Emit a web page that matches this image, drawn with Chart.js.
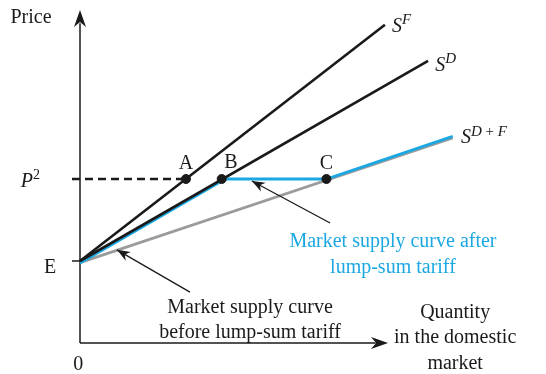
<!DOCTYPE html>
<html>
<head>
<meta charset="utf-8">
<script src="https://cdn.jsdelivr.net/npm/chart.js@4.4.0/dist/chart.umd.min.js"></script>
<style>
html, body { margin: 0; padding: 0; background: #fff; }
</style>
</head>
<body>
<canvas id="myChart" width="546" height="374"></canvas>
<script>
// all supply curves start at E on the price axis
const priceE = 25;
const priceP2 = 50;

// quantity / price pairs for each curve
const sF_q = [0, 99];
const sF_p = [25, 97];
const sD_q = [0, 113];
const sD_p = [25, 86];
const sDF_q = [0, 121];
const sDF_p = [25, 63];

// market supply after the lump-sum tariff: E -> B -> C -> along S(D+F)
const after_q = [0, 46, 80, 121];
const after_p = [25, 50, 50, 63];

// marked points
const pointNames = ['A', 'B', 'C'];
const point_q = [34.4, 46, 80];
const point_p = [50, 50, 50];

// axis ends (arrow tips)
const axisMaxQ = 100;
const axisMaxP = 101.5;

const BLUE = '#1ba8e2';
const GRAY = '#9b9b9b';
const INK = '#1a1a1a';
const SERIF = '"Liberation Serif", "Times New Roman", serif';

function pts(q, p) {
    return q.map((v, i) => ({x: v, y: p[i]}));
}

function line(data, color, width, extra) {
    return Object.assign({
        data: data,
        showLine: true,
        borderColor: color,
        borderWidth: width,
        pointRadius: 0,
        clip: false,
        borderCapStyle: 'butt'
    }, extra || {});
}

const datasets = [
    {data: pts(point_q, point_p), showLine: false, pointRadius: 4.5, backgroundColor: INK, borderColor: INK, clip: false},
    line(pts(sF_q, sF_p), INK, 2.6),
    line(pts(sD_q, sD_p), INK, 2.6),
    line([{x: -2.6, y: priceP2}, {x: point_q[0], y: priceP2}], INK, 2.4, {borderDash: [8, 5]}),
    line(pts(after_q.slice(0, 2), after_p.slice(0, 2)), BLUE, 2.8, {shiftY: 2}),
    line(pts(after_q.slice(1), after_p.slice(1)), BLUE, 2.8),
    line(pts(sDF_q, sDF_p), GRAY, 2.8, {shiftY: 1.6}),
    line([{x: 0, y: 0}, {x: axisMaxQ - 4, y: 0}], INK, 1.5),
    line([{x: 0, y: 0}, {x: 0, y: axisMaxP - 4}], INK, 1.5)
];

const labels = [
    {parts: [['Price', 20, '']], q: -15.9, p: 97.6, align: 'center'},
    {parts: [['E', 20, '']], q: -9.7, p: 21.3, align: 'center'},
    {parts: [['P', 20, 'italic'], ['2', 14, '', -8]], q: -19.2, p: 47.5, align: 'left'},
    {parts: [['0', 20, '']], q: -0.6, p: -8.2, align: 'center'},
    {parts: [['A', 20, '']], q: 34.4, p: 53.0, align: 'center'},
    {parts: [['B', 20, '']], q: 49.0, p: 53.3, align: 'center'},
    {parts: [['C', 20, '']], q: 80.0, p: 53.0, align: 'center'},
    {parts: [['S', 20, 'italic'], ['F', 15, 'italic', -8]], q: 101.3, p: 94.8, align: 'left'},
    {parts: [['S', 20, 'italic'], ['D', 15, 'italic', -8]], q: 115.3, p: 82.9, align: 'left'},
    {parts: [['S', 20, 'italic'], ['D', 15, 'italic', -7], [' + ', 15, '', -7], ['F', 15, 'italic', -7]], q: 123.7, p: 61.0, align: 'left'},
    {parts: [['Market supply curve after', 20, '']], q: 101.6, p: 29.3, align: 'center', color: BLUE},
    {parts: [['lump-sum tariff', 20, '']], q: 101.6, p: 21.3, align: 'center', color: BLUE},
    {parts: [['Market supply curve', 20, '']], q: 55.2, p: 9.1, align: 'center'},
    {parts: [['before lump-sum tariff', 20, '']], q: 55.2, p: 1.5, align: 'center'},
    {parts: [['Quantity', 20, '']], q: 121.8, p: 7.6, align: 'center'},
    {parts: [['in the domestic', 20, '']], q: 121.8, p: 0, align: 'center'},
    {parts: [['market', 20, '']], q: 121.8, p: -7.9, align: 'center'}
];

// pointer arrows: [tailQ, tailP, headQ, headP]
const pointers = [
    [81.2, 36.6, 55.8, 49.4],
    [35.7, 15.5, 12.0, 28.4]
];

function arrowHead(ctx, x1, y1, x2, y2, len, half) {
    const a = Math.atan2(y2 - y1, x2 - x1);
    const c = Math.cos(a), s = Math.sin(a);
    ctx.beginPath();
    ctx.moveTo(x2, y2);
    ctx.lineTo(x2 - len * c + half * s, y2 - len * s - half * c);
    ctx.lineTo(x2 - len * 0.7 * c, y2 - len * 0.7 * s);
    ctx.lineTo(x2 - len * c - half * s, y2 - len * s + half * c);
    ctx.closePath();
    ctx.fill();
}

const shiftPlugin = {
    id: 'shift',
    beforeDatasetDraw(chart, args) {
        const ds = chart.data.datasets[args.index];
        chart.ctx.save();
        if (ds.shiftY) chart.ctx.translate(0, ds.shiftY);
    },
    afterDatasetDraw(chart) {
        chart.ctx.restore();
    }
};

const notesPlugin = {
    id: 'notes',
    afterDatasetsDraw(chart) {
        const ctx = chart.ctx;
        const xs = chart.scales.x, ys = chart.scales.y;
        const X = v => xs.getPixelForValue(v);
        const Y = v => ys.getPixelForValue(v);
        ctx.save();
        ctx.fillStyle = INK;
        ctx.strokeStyle = INK;

        // axis arrow heads
        arrowHead(ctx, X(0), Y(0), X(0), Y(axisMaxP), 17, 6);
        arrowHead(ctx, X(0), Y(0), X(axisMaxQ), Y(0), 17, 6);

        // tick at E
        ctx.lineWidth = 1.5;
        ctx.beginPath();
        ctx.moveTo(X(0) - 8, Y(priceE));
        ctx.lineTo(X(0), Y(priceE));
        ctx.stroke();

        // pointer arrows
        ctx.lineWidth = 1.3;
        pointers.forEach(a => {
            ctx.beginPath();
            ctx.moveTo(X(a[0]), Y(a[1]));
            ctx.lineTo(X(a[2]), Y(a[3]));
            ctx.stroke();
            arrowHead(ctx, X(a[0]), Y(a[1]), X(a[2]), Y(a[3]), 13, 5);
        });

        // texts
        ctx.textBaseline = 'alphabetic';
        ctx.textAlign = 'left';
        labels.forEach(l => {
            ctx.fillStyle = l.color || INK;
            let w = 0;
            l.parts.forEach(pt => {
                ctx.font = (pt[2] ? pt[2] + ' ' : '') + pt[1] + 'px ' + SERIF;
                w += ctx.measureText(pt[0]).width;
            });
            let x = X(l.q);
            if (l.align === 'center') x -= w / 2;
            const y = Y(l.p);
            l.parts.forEach(pt => {
                ctx.font = (pt[2] ? pt[2] + ' ' : '') + pt[1] + 'px ' + SERIF;
                ctx.fillText(pt[0], x, y + (pt[3] || 0));
                x += ctx.measureText(pt[0]).width;
            });
        });
        ctx.restore();
    }
};

const ctx = document.getElementById('myChart').getContext('2d');
const myChart = new Chart(ctx, {
    type: 'scatter',
    data: {datasets: datasets},
    options: {
        responsive: false,
        animation: false,
        events: [],
        layout: {
            padding: {left: 80, right: 93.3, top: 8.44, bottom: 31}
        },
        scales: {
            x: {type: 'linear', display: false, min: 0, max: 121},
            y: {type: 'linear', display: false, min: 0, max: 102}
        },
        plugins: {
            legend: {display: false},
            tooltip: {enabled: false}
        }
    },
    plugins: [shiftPlugin, notesPlugin]
});
</script>
</body>
</html>
